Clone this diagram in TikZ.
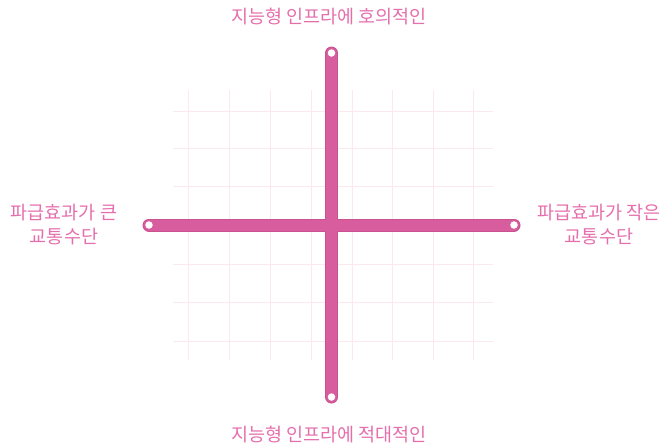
\documentclass[tikz,border=0pt]{standalone}
\usepackage{fontspec}
\newfontfamily\kr{Noto Sans CJK KR}
\definecolor{barpink}{HTML}{D75D9E}
\definecolor{baredge}{HTML}{C9538F}
\definecolor{txtpink}{HTML}{E56FAD}
\definecolor{gridpink}{HTML}{FCE8EF}
\tikzset{
  lbl/.style={text=txtpink, font=\kr\fontsize{18.5}{24}\selectfont, align=center, inner sep=0pt},
  gridline/.style={draw=gridpink, line width=1pt},
  axisbar/.style={draw=baredge, line width=13pt, line cap=round},
  axisfill/.style={draw=barpink, line width=11pt, line cap=round},
  endhole/.style={circle, fill=white, minimum size=7.5pt, inner sep=0pt}
}
\begin{document}
\begin{tikzpicture}[x=1pt,y=-1pt]
\useasboundingbox (0,0) rectangle (668,445);
% grid
\foreach \gx in {188,229,270,311,352,392,433,473}
  \draw[gridline] (\gx,90) -- (\gx,360);
\foreach \gy in {111,148,186,225,264,302,341}
  \draw[gridline] (173,\gy) -- (493,\gy);
% axis ends
\coordinate (T) at (331.5,53);
\coordinate (B) at (331.5,397);
\coordinate (L) at (149,225);
\coordinate (R) at (514,225);
\draw[axisbar] (L) -- (R);
\draw[axisbar] (T) -- (B);
\draw[axisfill] (L) -- (R);
\draw[axisfill] (T) -- (B);
\node[endhole] (th) at (T) {};
\node[endhole] (bh) at (B) {};
\node[endhole] (lh) at (L) {};
\node[endhole] (rh) at (R) {};
% labels
\node[lbl] (top) at (329,17) {지능형 인프라에 호의적인};
\node[lbl] (bot) at (329,434) {지능형 인프라에 적대적인};
\node[lbl] (left) at (64,225) {파급효과가 큰\\교통수단};
\node[lbl] (right) at (599,225) {파급효과가 작은\\교통수단};
\end{tikzpicture}
\end{document}
